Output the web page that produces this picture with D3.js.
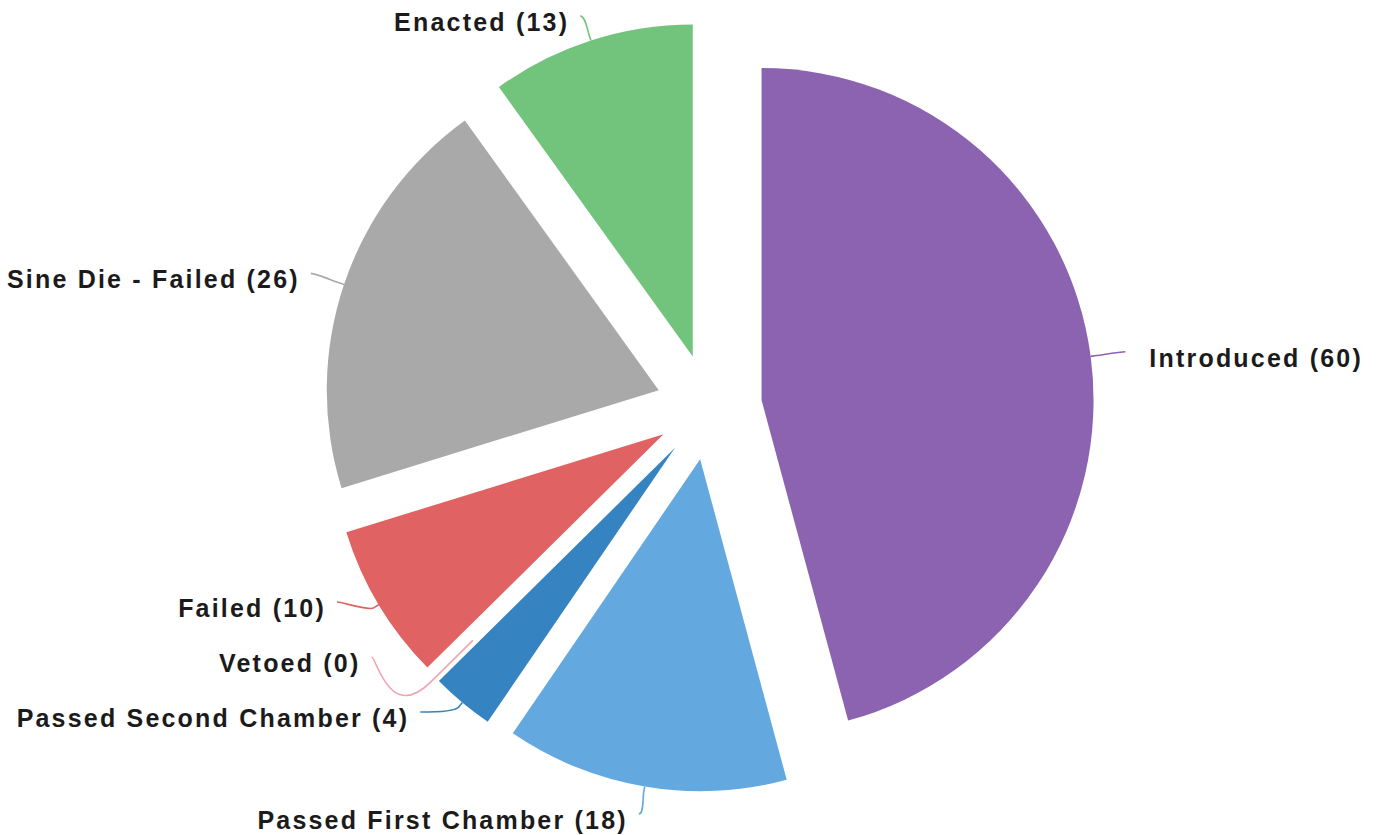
<!DOCTYPE html>
<html>
<head>
<meta charset="utf-8">
<title>Bill status</title>
<style>
  body {margin:0; background:#fff}
  text {
    font-family: "Liberation Sans", Arial, sans-serif;
    font-weight: bold;
    font-size: 25px;
    letter-spacing: 2.2px;
    fill: #1b1b1b;
  }
  path.conn {fill: none; stroke-width: 1.6}
</style>
</head>
<body>
<script src="https://cdn.jsdelivr.net/npm/d3@7"></script>
<script>

const statuses = ['Introduced', 'Passed First Chamber', 'Passed Second Chamber', 'Vetoed', 'Failed', 'Sine Die - Failed', 'Enacted']
const counts = [60, 18, 4, 0, 10, 26, 13]
const palette = ['#8c63b0', '#63a9e0', '#3584c1', '#f2a4ae', '#e06262', '#a9a9a9', '#72c47d']

const w = 1377, h = 835
const cx = 709, cy = 407, r = 332
const pull = 53          // how far each slice is pulled out
const labelR = 420       // label ring, from the pie centre
const slot = 55          // vertical room one label needs
const yMin = 16, yMax = 822, yLow = 814

const svg = d3.select('body').append('svg')
  .attr('width', w)
  .attr('height', h)

const color = d3.scaleOrdinal(statuses, palette)
const rows = statuses.map((name, i) => ({name, count: counts[i]}))

const pie = d3.pie().sort(null).value(d => d.count)
const arc = d3.arc().innerRadius(0).outerRadius(r)

const arcs = pie(rows)

arcs.forEach(a => {
  a.mid = (a.startAngle + a.endAngle) / 2
  a.ux = Math.sin(a.mid)
  a.uy = -Math.cos(a.mid)
  a.left = a.ux < 0
  a.ox = a.ux * pull
  a.oy = a.uy * pull
  a.ty = cy + a.uy * labelR
})

// slices
svg.append('g')
  .attr('transform', `translate(${cx},${cy})`)
  .selectAll('path')
  .data(arcs)
  .join('path')
    .attr('transform', d => `translate(${d.ox},${d.oy})`)
    .attr('d', arc)
    .attr('fill', d => color(d.data.name))

const ringX = (a, y) => {
  const dy = y - cy
  const dx = Math.sqrt(Math.max(0, labelR * labelR - dy * dy))
  return cx + (a.left ? -dx : dx)
}

// labels go into fixed slots; biggest slices choose first,
// a label with free slots on both sides keeps its own place
function spread (list) {
  const slots = []
  for (let y = yMax; y >= yMin; y -= slot) slots.push({y, used: null})
  list.slice().sort((a, b) => b.value - a.value).forEach(a => {
    const free = slots.filter(s => !s.used)
    const s = free.reduce((m, s) => Math.abs(s.y - a.ty) < Math.abs(m.y - a.ty) ? s : m)
    s.used = a
  })
  slots.forEach((s, i) => {
    const a = s.used
    if (!a) return
    const alone = [slots[i - 1], slots[i + 1]].every(n => !n || !n.used)
    if (alone) {
      a.y = Math.max(yMin, Math.min(yLow, a.ty))
      a.lx = ringX(a, a.ty)
    } else {
      a.y = s.y
      a.lx = ringX(a, s.y)
    }
  })
}

spread(arcs.filter(a => a.left))
spread(arcs.filter(a => !a.left))

arcs.forEach(a => {
  // a slice with nothing in it is not pulled out
  const p = a.value > 0 ? pull : 0
  a.tx = cx + a.ux * (r + p)
  a.tyy = cy + a.uy * (r + p)
  a.bx = cx + a.ox + a.ux * (r + 6)
  a.by = cy + a.oy + a.uy * (r + 6)
})

// connectors
svg.append('g')
  .selectAll('path')
  .data(arcs)
  .join('path')
    .attr('class', 'conn')
    .attr('stroke', d => color(d.data.name))
    .attr('d', d => {
      const p = d3.path()
      p.moveTo(d.lx, d.y)
      p.bezierCurveTo(d.lx + (d.left ? 5 : -5), d.y, 2 * d.bx - d.tx, 2 * d.by - d.tyy, d.bx, d.by)
      p.lineTo(d.tx, d.tyy)
      return p.toString()
    })

// labels
svg.append('g')
  .selectAll('text')
  .data(arcs)
  .join('text')
    .attr('x', d => d.left ? d.lx - 11 : d.lx + 24)
    .attr('y', d => d.y + 6)
    .attr('dy', '0.35em')
    .attr('text-anchor', d => d.left ? 'end' : 'start')
    .text(d => `${d.data.name} (${d.data.count})`)

</script>
</body>
</html>
